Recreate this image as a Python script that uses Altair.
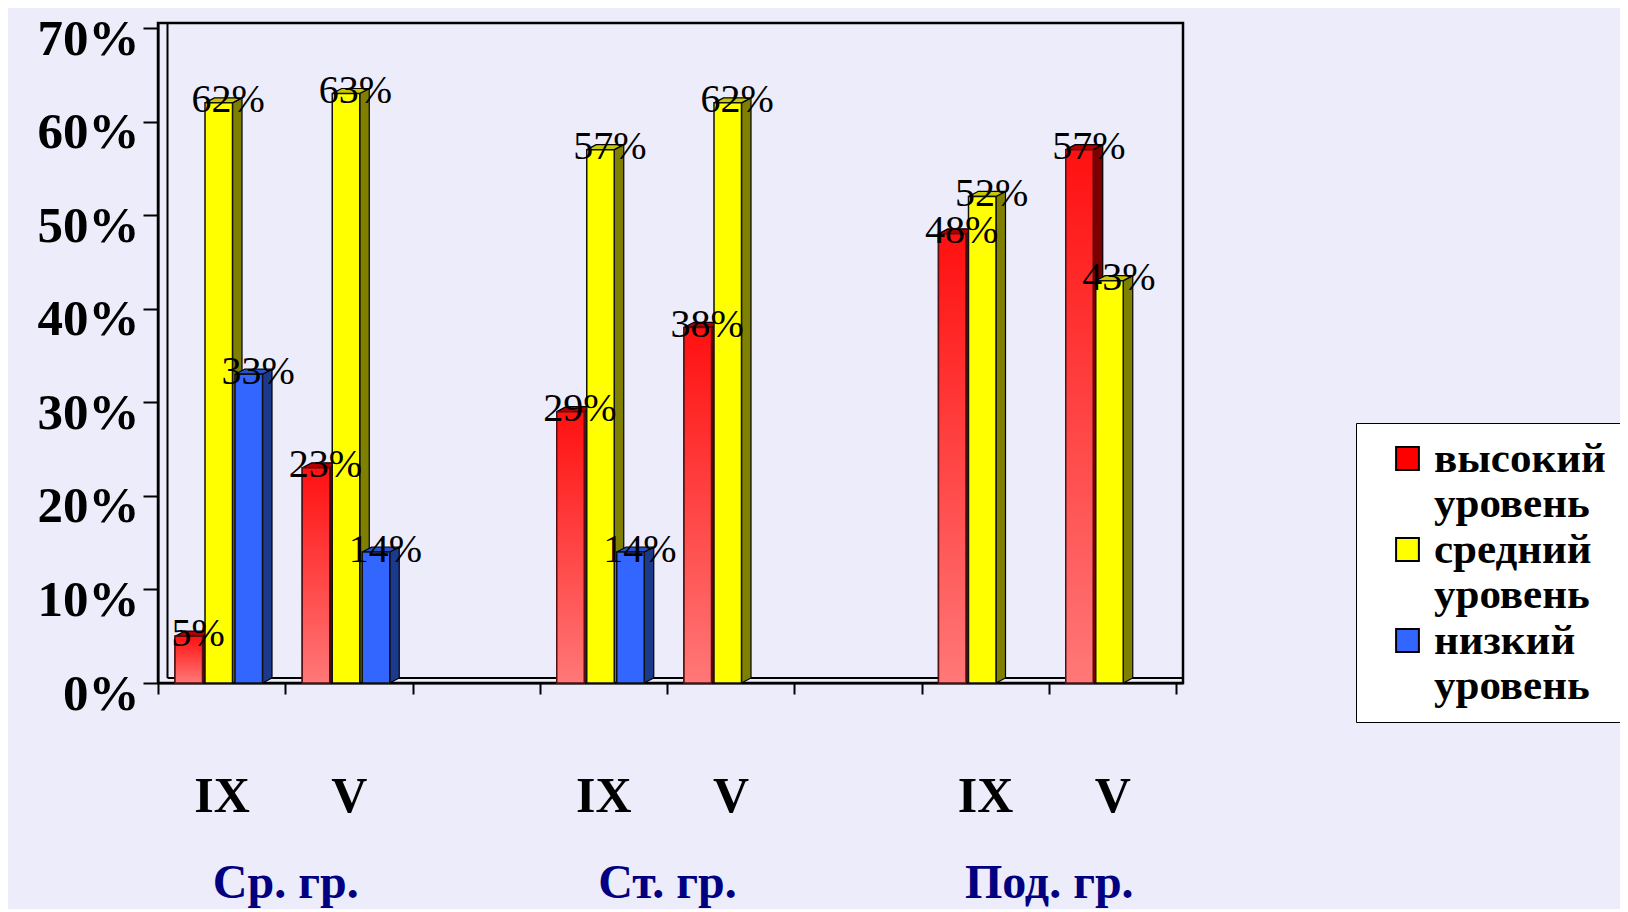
import altair as alt
import pandas as pd

# ---------------- data ----------------
groups = ["Ср. гр.", "Ст. гр.", "Под. гр."]
periods = ["IX", "V"]
levels = ["высокий уровень", "средний уровень", "низкий уровень"]
high = [5, 23, 29, 38, 48, 57]
mid = [62, 63, 57, 62, 52, 43]
low = [33, 14, 14, None, None, None]

front_colors = ["#ff0000", "#ffff00", "#3366ff"]
side_colors = ["#7c0000", "#808000", "#1c3a8c"]
top_colors = ["#b00000", "#c8c800", "#2a50c8"]

# ---------------- geometry (pixels -> data units) ----------------
W, H = 1025, 660
XMAX = 8 * W / 1018
YMAX = 70 * H / 655
PX_X = W / XMAX
PX_Y = H / YMAX
DEPTH = 9.5 / PX_X
RISE = 5 / PX_Y
BAR_W = 27.5 / PX_X
PITCH = 30 / PX_X
LEFT0 = 17 / PX_X

series = [high, mid, low]
fronts, sides, tops = [], [], []
for g in range(len(groups)):
    for s in range(len(periods)):
        k = g * len(periods) + s
        slot = g * (len(periods) + 1) + s
        for i, vals in enumerate(series):
            v = vals[k]
            if v is None:
                continue
            bid = f"{k}-{i}"
            xl = slot + LEFT0 + i * PITCH
            xr = xl + BAR_W
            fronts.append(dict(id=bid, level=levels[i], v=v, zero=0, xl=xl, xr=xr,
                               lx=(xl + xr) / 2 + DEPTH, ly=v + RISE / 2,
                               label=f"{v}%"))
            sides.append(dict(id=bid, x=xr, top=v, bot=0, c=side_colors[i]))
            sides.append(dict(id=bid, x=xr + DEPTH, top=v + RISE, bot=RISE, c=side_colors[i]))
            tops.append(dict(id=bid, y=v, xa=xl, xb=xr, c=top_colors[i]))
            tops.append(dict(id=bid, y=v + RISE, xa=xl + DEPTH, xb=xr + DEPTH, c=top_colors[i]))

df_front = pd.DataFrame(fronts)
df_side = pd.DataFrame(sides)
df_top = pd.DataFrame(tops)
df_wall_v = pd.DataFrame([dict(x=DEPTH, y=RISE, y2=YMAX)])
df_wall_h = pd.DataFrame([dict(y=RISE, x=DEPTH, x2=XMAX)])

# axis values
slot_centers, slot_names = [], []
group_centers = []
for g in range(len(groups)):
    for s in range(len(periods)):
        slot_centers.append(g * (len(periods) + 1) + s + 0.5)
        slot_names.append(periods[s])
    group_centers.append(g * (len(periods) + 1) + len(periods) / 2)
tick_vals = list(range(0, 9))
xvals = sorted(tick_vals + slot_centers)

centers_js = "[" + ",".join(str(c) for c in slot_centers) + "]"
names_js = "[" + ",".join(f"'{n}'" for n in slot_names) + "]"
x_label_expr = f"indexof({centers_js}, datum.value) >= 0 ? {names_js}[indexof({centers_js}, datum.value)] : ''"
gc_js = "[" + ",".join(str(c) for c in group_centers) + "]"
gn_js = "[" + ",".join(f"'{n}'" for n in groups) + "]"
g_label_expr = f"indexof({gc_js}, datum.value) >= 0 ? {gn_js}[indexof({gc_js}, datum.value)] : ''"

SERIF = "Liberation Serif"
xscale = alt.Scale(domain=[0, XMAX], nice=False, zero=False)
yscale = alt.Scale(domain=[0, YMAX], nice=False, zero=False)

yaxis = alt.Axis(values=list(range(0, 71, 10)), labelExpr="datum.value + '%'", title=None,
                 grid=False, tickSize=15, tickWidth=2, tickColor="black",
                 domainColor="black", domainWidth=2, labelFont=SERIF, labelFontSize=51,
                 labelFontWeight="bold", labelColor="black", labelPadding=4,
                 labelOffset=11)

xaxis_main = alt.Axis(values=xvals, labelExpr=x_label_expr, title=None, grid=False,
                      orient="bottom", tickSize=11, tickWidth=2,
                      tickColor={"condition": {"test": "datum.value % 1 == 0", "value": "black"},
                                 "value": "transparent"},
                      domainColor="black", domainWidth=2, labelFont=SERIF, labelFontSize=50,
                      labelFontWeight="bold", labelColor="black", labelPadding=77,
                      labelFlush=False, labelOverlap=False)

xaxis_group = alt.Axis(values=group_centers, labelExpr=g_label_expr, title=None, grid=False,
                       orient="bottom", domain=False, ticks=False, tickSize=0,
                       labelFont=SERIF, labelFontSize=48, labelFontWeight="bold",
                       labelColor="#000080", labelPadding=176, labelFlush=False,
                       labelOverlap=False)

legend = alt.Legend(title=None, orient="none", legendX=1198, legendY=400,
                    fillColor="white", strokeColor="black", padding=14,
                    labelFont=SERIF, labelFontSize=43, labelFontWeight="bold",
                    labelColor="black", labelExpr="split(datum.label, ' ')",
                    symbolType="square", symbolSize=520, symbolStrokeColor="black",
                    symbolStrokeWidth=2, symbolOffset=16, labelOffset=5,
                    rowPadding=2, labelLimit=400)

red_grad = {"gradient": "linear", "x1": 0, "x2": 0, "y1": 0, "y2": 1,
            "stops": [{"offset": 0, "color": "#ff1010"}, {"offset": 1, "color": "#ff7878"}]}

wall_v = alt.Chart(df_wall_v).mark_rule(color="black", strokeWidth=2).encode(
    x=alt.X("x:Q", scale=xscale, axis=xaxis_group),
    y=alt.Y("y:Q", scale=yscale, axis=yaxis),
    y2="y2:Q",
)
wall_h = alt.Chart(df_wall_h).mark_rule(color="black", strokeWidth=2).encode(
    y=alt.Y("y:Q", scale=yscale, axis=yaxis),
    x=alt.X("x:Q", scale=xscale, axis=None),
    x2="x2:Q",
)
side = alt.Chart(df_side).mark_area(orient="vertical", stroke="black", strokeWidth=1.2).encode(
    x=alt.X("x:Q", scale=xscale, axis=None),
    y=alt.Y("top:Q", scale=yscale, axis=yaxis, stack=None),
    y2="bot:Q",
    detail="id:N",
    fill=alt.Fill("c:N", scale=None),
)
top = alt.Chart(df_top).mark_area(orient="horizontal", stroke="black", strokeWidth=1.2).encode(
    y=alt.Y("y:Q", scale=yscale, axis=yaxis),
    x=alt.X("xa:Q", scale=xscale, axis=None, stack=None),
    x2="xb:Q",
    detail="id:N",
    fill=alt.Fill("c:N", scale=None),
)
front = alt.Chart(df_front).mark_rect(stroke="#111111", strokeWidth=1.5).encode(
    x=alt.X("xl:Q", scale=xscale, axis=xaxis_main),
    x2="xr:Q",
    y=alt.Y("v:Q", scale=yscale, axis=yaxis),
    y2="zero:Q",
    color=alt.Color("level:N", scale=alt.Scale(domain=levels, range=front_colors), legend=legend),
)
front_red = alt.Chart(df_front).transform_filter(
    alt.datum.level == levels[0]
).mark_rect(fill=red_grad, stroke="#551111", strokeWidth=1.5).encode(
    x=alt.X("xl:Q", scale=xscale, axis=None),
    x2="xr:Q",
    y=alt.Y("v:Q", scale=yscale, axis=yaxis),
    y2="zero:Q",
)
labels = alt.Chart(df_front).mark_text(font=SERIF, fontSize=40, baseline="middle",
                                        align="center", color="black").encode(
    x=alt.X("lx:Q", scale=xscale, axis=None),
    y=alt.Y("ly:Q", scale=yscale, axis=yaxis),
    text="label:N",
)

chart = alt.layer(wall_v, wall_h, side, top, front, front_red, labels).resolve_axis(
    x="independent"
).properties(
    width=W, height=H,
    autosize=alt.AutoSizeParams(type="none"),
    padding={"left": 150, "top": 15, "right": 437, "bottom": 226},
    background="#ececfb",
).configure(
    view=alt.ViewConfig(stroke="black", strokeWidth=2.5),
    style={"guide-label": {"lineHeight": 45}},
)

chart.save("out.html", embed_options={"renderer": "svg", "actions": False})
